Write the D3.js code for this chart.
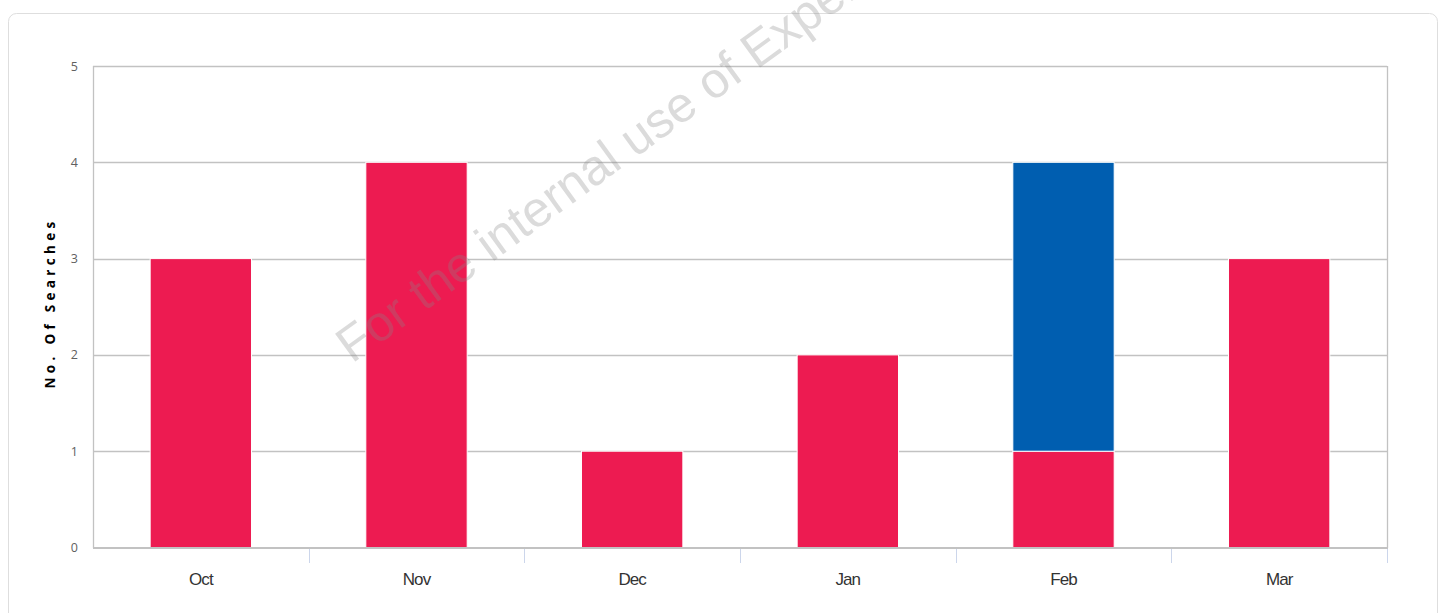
<!DOCTYPE html>
<html>
<head>
<meta charset="utf-8">
<script src="https://cdn.jsdelivr.net/npm/d3@7"></script>
<style>
  html, body { margin: 0; padding: 0; background: #fff; }
  svg { display: block; }
</style>
</head>
<body>
<svg id="chart" width="1448" height="613"></svg>
<script>
const categories = ["Oct", "Nov", "Dec", "Jan", "Feb", "Mar"];
const seriesRed = [3, 4, 1, 2, 1, 3];
const seriesBlue = [0, 0, 0, 0, 3, 0];
const yTicks = [0, 1, 2, 3, 4, 5];
const yTitle = "No. Of Searches";
const watermark = "For the internal use of Experian";

const svg = d3.select("#chart");
const W = 1448, H = 613;
const m = { left: 93, right: 61, top: 66, bottom: 65 };
const x0 = m.left, x1 = W - m.right, y0 = H - m.bottom, y1 = m.top;

// card
svg.append("rect").attr("x", 8.5).attr("y", 13.5).attr("width", 1429).attr("height", 640)
  .attr("rx", 8).attr("fill", "#fff").attr("stroke", "#dedede");

const x = d3.scaleBand().domain(categories).range([x0, x1]).paddingInner(0).paddingOuter(0);
const y = d3.scaleLinear().domain([0, 5]).range([y0 - 0.5, y1]);

// gridlines
svg.append("g").selectAll("line").data(yTicks.filter(d => d > 0)).join("line")
  .attr("x1", x0).attr("x2", x1)
  .attr("y1", d => Math.round(y(d)) + 0.5).attr("y2", d => Math.round(y(d)) + 0.5)
  .attr("stroke", "#c2c2c2").attr("stroke-width", 1.3);

// stacked data
const rows = categories.map((c, i) => ({ cat: c, red: seriesRed[i], blue: seriesBlue[i] }));
const stack = d3.stack().keys(["red", "blue"])(rows);
const colors = { red: "#ED1B51", blue: "#005EB0" };
const bw = x.bandwidth() * 0.47;

stack.forEach(layer => {
  svg.append("g").selectAll("rect").data(layer.filter(d => d[1] > d[0])).join("rect")
    .attr("x", d => x(d.data.cat) + (x.bandwidth() - bw) / 2)
    .attr("width", bw)
    .attr("y", d => y(d[1]))
    .attr("height", d => y(d[0]) - y(d[1]))
    .attr("fill", colors[layer.key])
    .attr("stroke", "#fff").attr("stroke-width", 1);
});

// plot border left & right
svg.append("line").attr("x1", x0 + 0.5).attr("x2", x0 + 0.5).attr("y1", y1).attr("y2", y0)
  .attr("stroke", "#c2c2c2").attr("stroke-width", 1.3);
svg.append("line").attr("x1", x1 + 0.5).attr("x2", x1 + 0.5).attr("y1", y1).attr("y2", y0)
  .attr("stroke", "#c2c2c2").attr("stroke-width", 1.3);

// x axis line
svg.append("line").attr("x1", x0).attr("x2", x1 + 1).attr("y1", y0).attr("y2", y0)
  .attr("stroke", "#c2c2c2").attr("stroke-width", 2);

// x axis ticks at band boundaries
const bounds = categories.slice(1).map(c => x(c)).concat([x1]);
svg.append("g").selectAll("line").data(bounds).join("line")
  .attr("x1", d => Math.round(d) + 0.5).attr("x2", d => Math.round(d) + 0.5)
  .attr("y1", y0 + 1).attr("y2", y0 + 15)
  .attr("stroke", "#ccd6eb").attr("stroke-width", 1);

// x labels
svg.append("g").selectAll("text").data(categories).join("text")
  .attr("x", d => x(d) + x.bandwidth() / 2)
  .attr("y", 585)
  .attr("text-anchor", "middle")
  .attr("font-family", "Liberation Sans, Arial, sans-serif")
  .attr("font-size", 17)
  .attr("letter-spacing", "-0.9px")
  .attr("fill", "#333")
  .text(d => d);

// y labels
svg.append("g").selectAll("text").data(yTicks).join("text")
  .attr("x", 78)
  .attr("y", d => y(d) + 4.5)
  .attr("text-anchor", "end")
  .attr("font-family", "Open Sans, sans-serif")
  .attr("font-size", 12.5)
  .attr("fill", "#606060")
  .text(d => d);

// y title
svg.append("text")
  .attr("transform", "translate(55,303) rotate(-90)")
  .attr("text-anchor", "middle")
  .attr("font-family", "Open Sans, sans-serif")
  .attr("font-weight", "bold")
  .attr("font-size", 13.5)
  .attr("letter-spacing", "4.3px")
  .attr("fill", "#000")
  .text(yTitle);

// watermark
svg.append("text")
  .attr("transform", "translate(352,364) rotate(-36)")
  .attr("font-family", "Liberation Sans, Arial, sans-serif")
  .attr("font-size", 50)
  .attr("fill", "#888")
  .attr("fill-opacity", 0.3)
  .text(watermark);
</script>
</body>
</html>
